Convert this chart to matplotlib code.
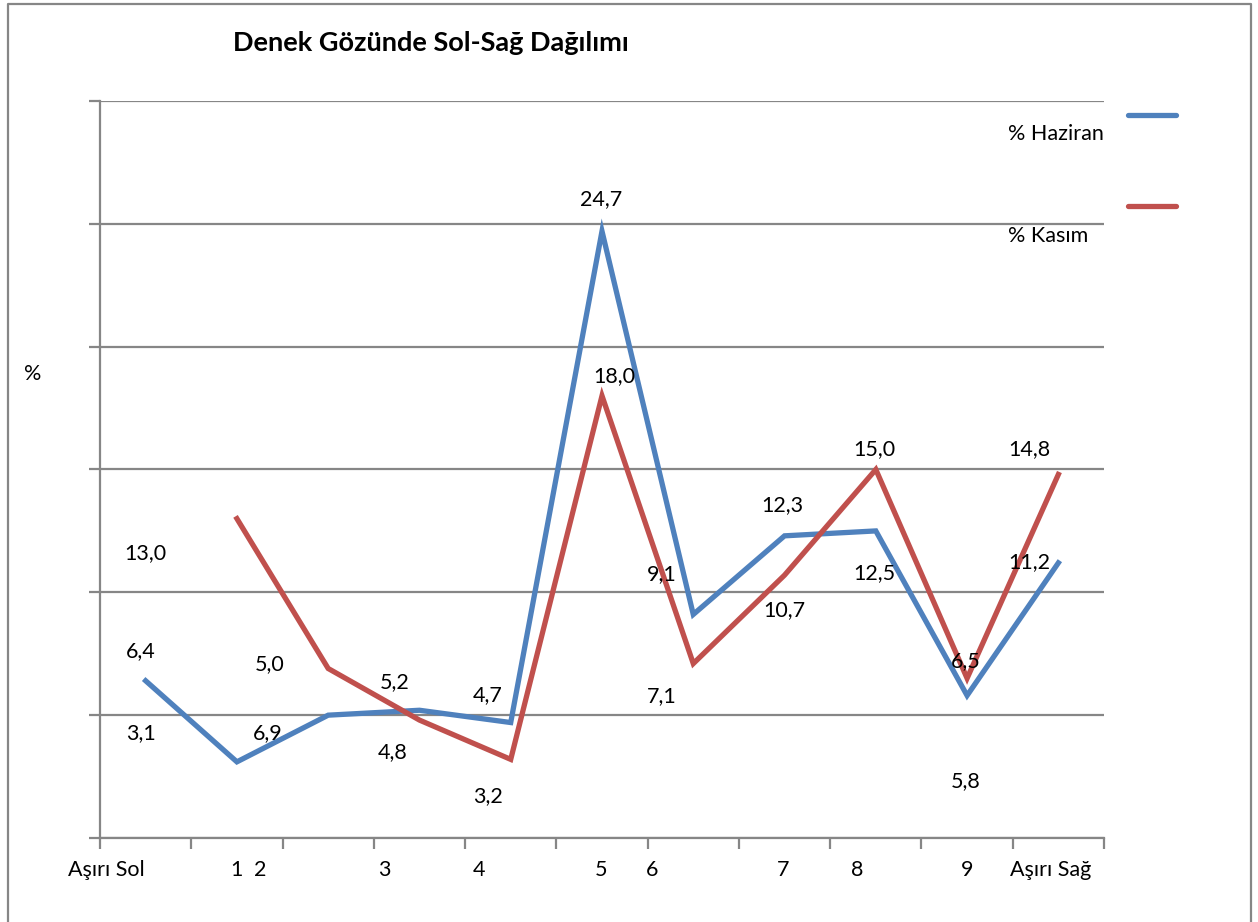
import matplotlib
matplotlib.use("Agg")
import matplotlib.pyplot as plt
from matplotlib.lines import Line2D
import numpy as np

plt.rcParams['font.family'] = ['Lato', 'DejaVu Sans']

# categories (Excel placed the tick texts off-centre, so keep their spots too)
tick_texts = ['Aşırı Sol', '1', '2', '3', '4', '5', '6', '7', '8', '9', 'Aşırı Sağ']
tick_spots = [-0.43, 1.0, 1.26, 2.62, 3.65, 4.99, 5.55, 6.98, 7.8, 9.0, 9.91]

haziran = [6.4, 3.1, 5.0, 5.2, 4.7, 24.7, 9.1, 12.3, 12.5, 5.8, 11.2]
kasim = [np.nan, 13.0, 6.9, 4.8, 3.2, 18.0, 7.1, 10.7, 15.0, 6.5, 14.8]

# where the data labels ended up in the original export
haziran_lbl_x = [-0.05, -0.05, 1.36, 2.73, 3.75, 4.99, 5.66, 6.98, 7.98, 8.98, 9.68]
haziran_lbl_y = [7.61, 4.27, 7.08, 6.35, 5.82, 26.0, 10.74, 13.55, 10.79, 2.32, 11.23]
kasim_lbl_x = [0.0, 1.34, 2.71, 3.75, 5.13, 5.66, 7.0, 7.98, 8.98, 9.68]
kasim_lbl_y = [11.6, 4.27, 3.5, 1.71, 18.8, 5.78, 9.28, 15.83, 7.2, 15.83]

blue = '#4F81BD'
red = '#C0504D'
grey = '#868686'
fs = 15.5

fig = plt.figure(figsize=(12.58, 9.22), dpi=100)
ax = fig.add_axes([100 / 1258, 84 / 922, 1004 / 1258, 737 / 922])

x = np.arange(len(haziran))
ax.plot(x, haziran, color=blue, lw=3.8, solid_joinstyle='miter', zorder=3)
ax.plot(x, kasim, color=red, lw=3.8, solid_joinstyle='miter', zorder=3)

for v, lx, ly in zip(haziran, haziran_lbl_x, haziran_lbl_y):
    ax.text(lx, ly, f'{v:.1f}'.replace('.', ','), ha='center', va='center', fontsize=fs)
for v, lx, ly in zip([k for k in kasim if not np.isnan(k)], kasim_lbl_x, kasim_lbl_y):
    ax.text(lx, ly, f'{v:.1f}'.replace('.', ','), ha='center', va='center', fontsize=fs)

ax.set_xlim(-0.5, 10.5)
ax.set_ylim(0, 30)
ax.set_yticks(np.arange(0, 31, 5))
ax.set_yticklabels([])
ax.yaxis.grid(True, color=grey, lw=1.6)
ax.set_axisbelow(True)
ax.tick_params(axis='y', length=8, width=1.6, color=grey)

ax.set_xticks(tick_spots)
ax.set_xticklabels(tick_texts, fontsize=fs)
ax.set_xticks(np.arange(-0.5, 11, 1), minor=True)
ax.tick_params(axis='x', which='major', length=0, pad=16)
ax.tick_params(axis='x', which='minor', length=8, width=1.6, color=grey)

for s in ['top', 'right']:
    ax.spines[s].set_visible(False)
for s in ['left', 'bottom']:
    ax.spines[s].set_color(grey)
    ax.spines[s].set_linewidth(1.6)

fig.text(33 / 1258, 1 - 374 / 922, '%', ha='center', va='center', fontsize=fs)
fig.text(431 / 1258, 1 - 43 / 922, 'Denek Gözünde Sol-Sağ Dağılımı',
         ha='center', va='center', fontsize=19.5, fontweight='bold')

# legend, laid out like the Excel export
fig.add_artist(Line2D([1128 / 1258, 1176 / 1258], [1 - 115 / 922] * 2, color=blue, lw=3.8,
                      solid_capstyle='round'))
fig.add_artist(Line2D([1128 / 1258, 1176 / 1258], [1 - 206 / 922] * 2, color=red, lw=3.8,
                      solid_capstyle='round'))
fig.text(1008 / 1258, 1 - 134 / 922, '% Haziran', ha='left', va='center', fontsize=fs)
fig.text(1008 / 1258, 1 - 236 / 922, '% Kasım', ha='left', va='center', fontsize=fs)

# chart border
fig.add_artist(Line2D([8 / 1258, 8 / 1258, 1251 / 1258, 1251 / 1258],
                      [0, 1 - 4 / 922, 1 - 4 / 922, 0], color=grey, lw=1.6))

fig.savefig('out.png', dpi=100)
